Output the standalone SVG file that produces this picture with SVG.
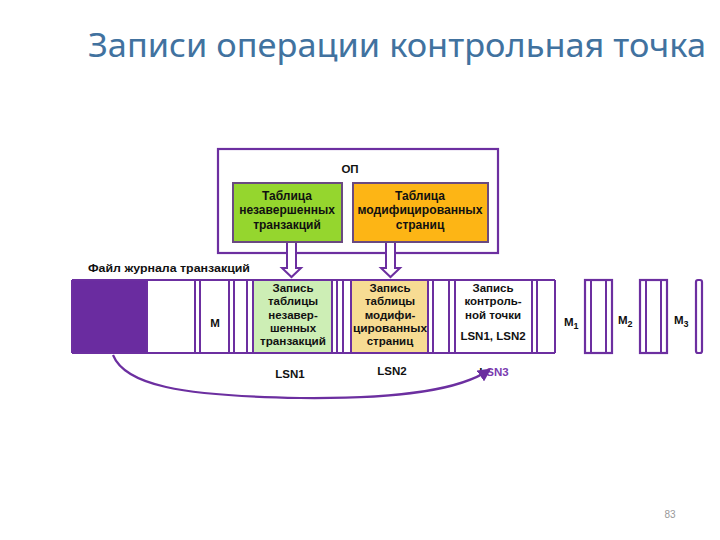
<svg xmlns="http://www.w3.org/2000/svg" width="720" height="540" viewBox="0 0 720 540">
<defs>
<style>
.t{font-family:"Liberation Sans",Arial,sans-serif;font-weight:bold;font-size:11.5px;fill:#111;text-anchor:middle}
.h{font-size:12px}
.p{stroke:#6c2fa0;stroke-width:2.2;fill:none}
.v{stroke:#6c2fa0;stroke-width:2}
</style>
<marker id="ah" viewBox="0 0 10 10" refX="8" refY="5" markerWidth="6" markerHeight="6" orient="auto-start-reverse">
<path d="M0,0 L10,5 L0,10 z" fill="#6c2fa0"/>
</marker>
</defs>
<rect width="720" height="540" fill="#fff"/>
<text x="88" y="57" font-family="Noto Sans, Open Sans, sans-serif" font-size="33" fill="#41729f" textLength="618" lengthAdjust="spacingAndGlyphs">Записи операции контрольная точка</text>

<g id="op">
<rect x="218" y="149" width="280" height="104" class="p"/>
<text x="350" y="173" class="t" font-size="14">ОП</text>
</g>
<g id="table1">
<rect x="233" y="183" width="109" height="59" fill="#95d62e" stroke="#6a4a80" stroke-width="2"/>
<text x="287" y="200" class="t h">Таблица</text>
<text x="287" y="214" class="t h">незавершенных</text>
<text x="287" y="229" class="t h">транзакций</text>
</g>
<g id="table2">
<rect x="353" y="183" width="135" height="59" fill="#fdb515" stroke="#6a4a80" stroke-width="2"/>
<text x="420" y="200" class="t h">Таблица</text>
<text x="420" y="214" class="t h" textLength="125" lengthAdjust="spacingAndGlyphs">модифицированных</text>
<text x="420" y="229" class="t h">страниц</text>
</g>

<text x="88" y="272" class="t" font-size="12" style="text-anchor:start" textLength="162" lengthAdjust="spacingAndGlyphs">Файл журнала транзакций</text>

<g id="log">
<rect x="72" y="280" width="75" height="73" fill="#6a2ca0"/>
<rect x="253" y="280" width="79" height="73" fill="#cdeeb5"/>
<rect x="351" y="280" width="77" height="73" fill="#f7dc93"/>
<line x1="72" y1="280" x2="555" y2="280" class="v" stroke-width="2.5"/>
<line x1="72" y1="353" x2="555" y2="353" class="v" stroke-width="2.5"/>
<line x1="72" y1="280" x2="72" y2="353" class="v"/>
<g class="v">
<line x1="147" y1="280" x2="147" y2="353"/>
<line x1="195" y1="280" x2="195" y2="353"/>
<line x1="200" y1="280" x2="200" y2="353"/>
<line x1="229" y1="280" x2="229" y2="353"/>
<line x1="234" y1="280" x2="234" y2="353"/>
<line x1="247" y1="280" x2="247" y2="353"/>
<line x1="253" y1="280" x2="253" y2="353"/>
<line x1="332" y1="280" x2="332" y2="353"/>
<line x1="337" y1="280" x2="337" y2="353"/>
<line x1="343" y1="280" x2="343" y2="353"/>
<line x1="351" y1="280" x2="351" y2="353"/>
<line x1="428" y1="280" x2="428" y2="353"/>
<line x1="433" y1="280" x2="433" y2="353"/>
<line x1="449" y1="280" x2="449" y2="353"/>
<line x1="455" y1="280" x2="455" y2="353"/>
<line x1="532" y1="280" x2="532" y2="353"/>
<line x1="537" y1="280" x2="537" y2="353"/>
<line x1="555" y1="280" x2="555" y2="353"/>
</g>
<text x="215" y="327" class="t" font-size="13">M</text>
<text x="293" y="292" class="t">Запись</text>
<text x="293" y="305" class="t">таблицы</text>
<text x="293" y="319" class="t">незавер-</text>
<text x="293" y="332" class="t">шенных</text>
<text x="293" y="345" class="t" textLength="66" lengthAdjust="spacingAndGlyphs">транзакций</text>
<text x="390" y="292" class="t">Запись</text>
<text x="390" y="305" class="t">таблицы</text>
<text x="390" y="319" class="t">модифи-</text>
<text x="390" y="332" class="t" textLength="74" lengthAdjust="spacingAndGlyphs">цированных</text>
<text x="390" y="345" class="t">страниц</text>
<text x="493" y="292" class="t">Запись</text>
<text x="493" y="305" class="t">контроль-</text>
<text x="493" y="319" class="t">ной точки</text>
<text x="493" y="340" class="t" font-size="12.5">LSN1, LSN2</text>
</g>

<g id="m1">
<rect x="585" y="280" width="27" height="73" class="p" stroke-width="2"/>
<line x1="591" y1="280" x2="591" y2="353" class="v"/>
<line x1="606" y1="280" x2="606" y2="353" class="v"/>
</g>
<g id="m2">
<rect x="640" y="280" width="27" height="73" class="p" stroke-width="2"/>
<line x1="646" y1="280" x2="646" y2="353" class="v"/>
<line x1="661" y1="280" x2="661" y2="353" class="v"/>
</g>
<g id="m3">
<rect x="696" y="280" width="6" height="73" rx="2" class="p" stroke-width="2"/>
</g>
<text x="564" y="326" class="t" style="text-anchor:start" font-size="13">M<tspan font-size="9" dy="3">1</tspan></text>
<text x="618" y="324" class="t" style="text-anchor:start" font-size="13">M<tspan font-size="9" dy="3">2</tspan></text>
<text x="674" y="324" class="t" style="text-anchor:start" font-size="13">M<tspan font-size="9" dy="3">3</tspan></text>

<text x="290" y="378" class="t" font-size="13">LSN1</text>
<text x="392" y="375" class="t" font-size="13">LSN2</text>
<text x="494" y="376" class="t" font-size="13">L<tspan fill="#7a3bb0">SN3</tspan></text>

<g id="connectors">
<path d="M287,243 V268 H282 L291.5,277 L301,268 H296 V243" fill="#fff" stroke="#6c2fa0" stroke-width="2"/>
<path d="M386,243 V268 H381 L390.5,277 L400,268 H395 V243" fill="#fff" stroke="#6c2fa0" stroke-width="2"/>
<path d="M113,355 C125,385 180,396 300,398 C400,399 460,390 489,370" class="p" stroke-width="2.5" marker-end="url(#ah)"/>
</g>

<text x="670" y="518" font-family="Liberation Sans, sans-serif" font-size="10" fill="#999" text-anchor="middle">83</text>
</svg>
